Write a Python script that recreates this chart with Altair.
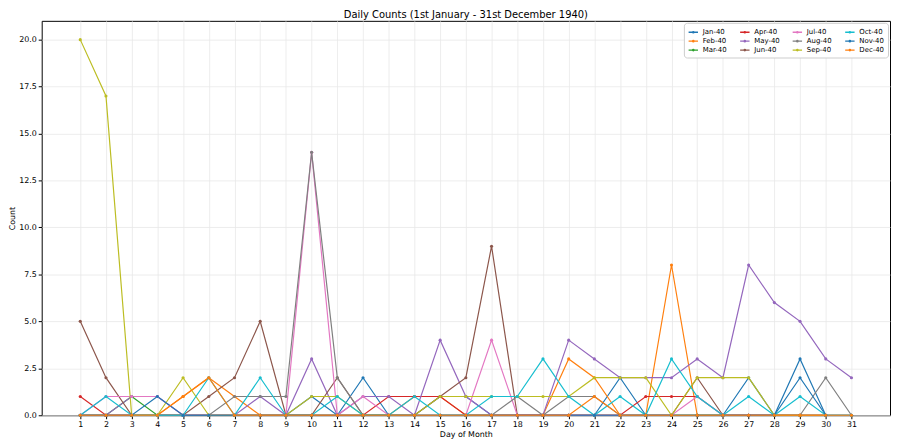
import altair as alt
import pandas as pd

months = ["Jan-40", "Feb-40", "Mar-40", "Apr-40", "May-40", "Jun-40",
          "Jul-40", "Aug-40", "Sep-40", "Oct-40", "Nov-40", "Dec-40"]
colors = ["#1f77b4", "#ff7f0e", "#2ca02c", "#d62728", "#9467bd", "#8c564b",
          "#e377c2", "#7f7f7f", "#bcbd22", "#17becf", "#1f77b4", "#ff7f0e"]

#      day 1..N
jan = [0, 0, 0, 0, 0, 0, 0, 0, 0, 1, 0, 2, 0, 0, 1, 1, 0, 0, 0, 0, 0, 2, 0, 0, 0, 0, 2, 0, 3, 0, 0]
feb = [0, 0, 0, 0, 1, 2, 1, 0, 0, 0, 0, 0, 0, 1, 1, 0, 0, 0, 0, 3, 2, 0, 0, 8, 0, 0, 0, 0, 0]
mar = [0, 0, 1, 0, 0, 0, 0, 0, 0, 0, 0, 0, 0, 0, 0, 0, 0, 0, 0, 0, 0, 0, 0, 0, 0, 0, 0, 0, 0, 0, 0]
apr = [1, 0, 0, 0, 0, 0, 0, 0, 0, 0, 0, 0, 1, 1, 1, 0, 0, 0, 0, 0, 0, 0, 1, 1, 1, 0, 0, 0, 0, 0]
may = [0, 0, 1, 1, 0, 0, 0, 1, 0, 3, 0, 1, 1, 0, 4, 1, 0, 0, 0, 4, 3, 2, 2, 2, 3, 2, 8, 6, 5, 3, 2]
jun = [5, 2, 0, 0, 0, 1, 2, 5, 0, 0, 2, 0, 0, 0, 1, 2, 9, 0, 0, 0, 0, 0, 0, 0, 2, 0, 0, 0, 0, 0]
jul = [0, 1, 1, 1, 0, 0, 0, 0, 0, 14, 0, 1, 0, 0, 0, 0, 4, 0, 0, 0, 0, 0, 0, 0, 1, 0, 0, 0, 0, 0, 0]
aug = [0, 0, 0, 0, 0, 0, 1, 1, 1, 14, 2, 0, 0, 0, 0, 0, 0, 1, 0, 1, 1, 0, 0, 0, 0, 0, 0, 0, 0, 2, 0]
sep = [20, 17, 0, 0, 2, 0, 0, 0, 0, 1, 1, 0, 0, 0, 1, 1, 1, 1, 1, 1, 2, 2, 2, 0, 2, 2, 2, 0, 0, 0]
oct_ = [0, 1, 0, 0, 0, 2, 0, 2, 0, 0, 1, 0, 0, 1, 0, 0, 1, 1, 3, 1, 0, 1, 0, 3, 1, 0, 1, 0, 1, 0, 0]
nov = [0, 0, 0, 1, 0, 0, 0, 0, 0, 0, 0, 0, 0, 0, 0, 0, 0, 0, 0, 0, 0, 0, 0, 0, 0, 0, 0, 0, 2, 0]
dec = [0, 0, 0, 0, 1, 2, 0, 0, 0, 0, 0, 0, 0, 0, 0, 0, 0, 0, 0, 0, 1, 0, 0, 0, 0, 0, 0, 0, 0, 0, 0]

series = [jan, feb, mar, apr, may, jun, jul, aug, sep, oct_, nov, dec]

y_ticks = [0, 2.5, 5, 7.5, 10, 12.5, 15, 17.5, 20]
x_ticks = list(range(1, 32))

rows = []
for m, vals in zip(months, series):
    for i, v in enumerate(vals):
        rows.append({"month": m, "day": i + 1, "count": v})
df = pd.DataFrame(rows)

sym = "M-1,0H1M-0.14,0A0.14,0.14,0,1,1,0.14,0A0.14,0.14,0,1,1,-0.14,0"

chart = alt.Chart(df).mark_line(
    strokeWidth=1.2,
    point=alt.OverlayMarkDef(size=10, filled=True),
).encode(
    x=alt.X("day:Q",
            scale=alt.Scale(domain=[-0.5, 32.5], nice=False, zero=False),
            axis=alt.Axis(values=x_ticks, format="d", title="Day of Month")),
    y=alt.Y("count:Q",
            scale=alt.Scale(domain=[0, 21], nice=False),
            axis=alt.Axis(values=y_ticks, format=".1f", title="Count")),
    color=alt.Color("month:N",
                    scale=alt.Scale(domain=months, range=colors),
                    legend=alt.Legend(
                        title=None, orient="top-right", columns=4,
                        strokeColor="#cccccc", fillColor="white",
                        padding=4, cornerRadius=3, offset=2,
                        labelFontSize=7, labelFont="DejaVu Sans",
                        symbolType=sym, symbolSize=90, symbolStrokeWidth=1.4,
                        columnPadding=9, rowPadding=0, labelOffset=4)),
).properties(
    width=892, height=433,
    padding={"left": 0, "top": 0, "right": 2, "bottom": 0},
    autosize=alt.AutoSizeParams(type="fit", contains="padding"),
    title=alt.TitleParams("Daily Counts (1st January - 31st December 1940)",
                          fontSize=10, fontWeight="normal",
                          font="DejaVu Sans", offset=1, color="black"),
).configure_view(
    stroke="black", strokeWidth=1
).configure_axis(
    domain=False, grid=True, gridColor="#e8e8e8", gridWidth=0.8,
    tickColor="black", tickSize=3.5, labelColor="black",
    labelFont="DejaVu Sans", labelFontSize=8, titleFont="DejaVu Sans",
    titleFontSize=8, titleFontWeight="normal", titleColor="black",
    labelPadding=2, titlePadding=2
)

chart.save("out.html", embed_options={"renderer": "svg", "actions": False})
